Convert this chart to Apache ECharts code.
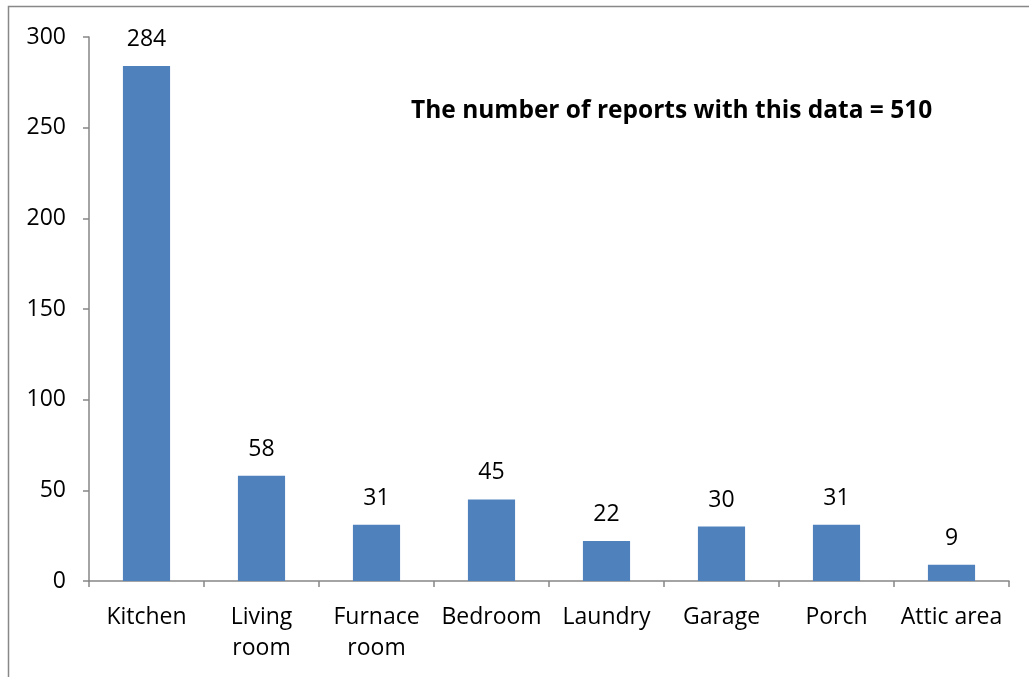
<!DOCTYPE html>
<html><head><meta charset="utf-8">
<script src="https://cdn.jsdelivr.net/npm/echarts@6/dist/echarts.min.js"></script>
<style>html,body{margin:0;padding:0;background:#fff}#c{width:1029px;height:677px}</style>
</head><body><div id="c"></div>
<script>
const categories = ['Kitchen', 'Living\nroom', 'Furnace\nroom', 'Bedroom', 'Laundry', 'Garage', 'Porch', 'Attic area'];
const values = [284, 58, 31, 45, 22, 30, 31, 9];
const yTicks = [0, 50, 100, 150, 200, 250, 300];
const titleText = 'The number of reports with this data = 510';
const font = '"Open Sans", sans-serif';
const chart = echarts.init(document.getElementById('c'), null, {renderer: 'canvas'});
chart.setOption({
  animation: false,
  title: {text: titleText, left: 406, top: 94, textStyle: {fontFamily: font, fontSize: 24.5, fontWeight: 'bold', color: '#000'}},
  graphic: [{type: 'rect', shape: {x: 8.5, y: 6.5, width: 1100, height: 800}, style: {fill: 'none', stroke: '#888', lineWidth: 1.5}, z: -1}],
  grid: {left: 89, right: 20, top: 37, bottom: 96},
  xAxis: {
    type: 'category', data: categories,
    axisLine: {lineStyle: {color: '#868686', width: 1.5}},
    axisTick: {show: true, length: 6, alignWithLabel: false, lineStyle: {color: '#868686', width: 1.5}},
    axisLabel: {color: '#000', fontFamily: font, fontSize: 23, margin: 21, lineHeight: 31, interval: 0}
  },
  yAxis: {
    type: 'value', min: yTicks[0], max: yTicks[yTicks.length - 1], interval: 50,
    splitLine: {show: false},
    axisLine: {show: true, lineStyle: {color: '#868686', width: 1.5}},
    axisTick: {show: true, length: 6, lineStyle: {color: '#868686', width: 1.5}},
    axisLabel: {color: '#000', fontFamily: font, fontSize: 23, margin: 23}
  },
  series: [{
    type: 'bar', data: values, barCategoryGap: '59%',
    itemStyle: {color: '#4F81BD'},
    label: {show: true, position: 'top', distance: 15, color: '#000', fontFamily: font, fontSize: 23}
  }]
});
</script></body></html>
